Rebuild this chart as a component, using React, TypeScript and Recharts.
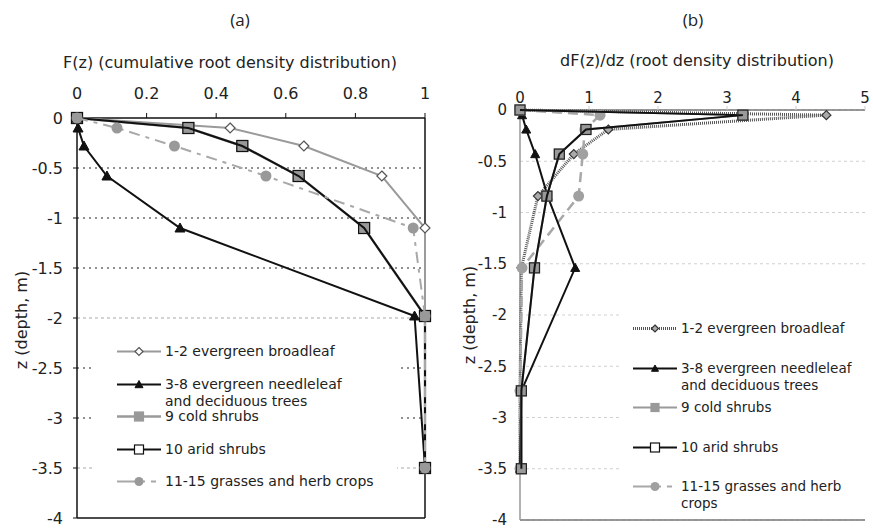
import React from "react";
import {
  ScatterChart,
  Scatter,
  XAxis,
  YAxis,
  CartesianGrid,
  ReferenceLine,
} from "recharts";

// depths (m) and values
const depthA = [0, -0.1, -0.28, -0.58, -1.1, -1.98, -3.5];
const broadleafF = [0, 0.44, 0.652, 0.876, 1.0, 1.0, 1.0];
const needleleafF = [0, 0.003, 0.02, 0.086, 0.296, 0.97, 1.0];
const coldShrubsF = [0, 0.32, 0.475, 0.637, 0.825, 1.0, 1.0];
const aridShrubsF = [0, 0.32, 0.475, 0.637, 0.825, 1.0, 1.0];
const grassesF = [0, 0.115, 0.28, 0.543, 0.966, 1.0, 1.0];

const depthB = [0, -0.05, -0.19, -0.43, -0.84, -1.54, -2.74, -3.5];
const broadleafD = [0, 4.44, 1.28, 0.78, 0.26, 0.02, 0, 0];
const needleleafD = [0, 0.03, 0.09, 0.22, 0.4, 0.8, 0.02, 0];
const coldShrubsD = [0, 3.23, 0.956, 0.57, 0.39, 0.21, 0.02, 0.02];
const aridShrubsD = [0, 3.23, 0.956, 0.57, 0.39, 0.21, 0.02, 0.02];
const grassesD = [0, 1.16, 0.94, 0.91, 0.85, 0.03, 0, 0];

const ticksFA = [0, 0.2, 0.4, 0.6, 0.8, 1];
const ticksDB = [0, 1, 2, 3, 4, 5];
const ticksZ = [0, -0.5, -1, -1.5, -2, -2.5, -3, -3.5, -4];

const legendNames = [
  "1-2 evergreen broadleaf",
  "3-8 evergreen needleleaf and deciduous trees",
  "9 cold shrubs",
  "10 arid shrubs",
  "11-15 grasses and herb crops",
];

const FONT = "'DejaVu Sans', Verdana, sans-serif";

type Kind = "diamond" | "triangle" | "square" | "circle";
type MarkerStyle = { kind: Kind; fill: string; stroke: string; size: number };

function Marker({ cx, cy, m }: { cx: number; cy: number; m: MarkerStyle }) {
  if (cx == null || cy == null) return null;
  const r = m.size / 2;
  if (m.kind === "diamond")
    return (
      <polygon
        points={`${cx},${cy - r} ${cx + r},${cy} ${cx},${cy + r} ${cx - r},${cy}`}
        fill={m.fill}
        stroke={m.stroke}
        strokeWidth={1.2}
      />
    );
  if (m.kind === "triangle")
    return (
      <polygon
        points={`${cx},${cy - r} ${cx + r},${cy + r * 0.8} ${cx - r},${cy + r * 0.8}`}
        fill={m.fill}
        stroke={m.stroke}
      />
    );
  if (m.kind === "square")
    return (
      <rect
        x={cx - r}
        y={cy - r}
        width={m.size}
        height={m.size}
        fill={m.fill}
        stroke={m.stroke}
        strokeWidth={1.2}
      />
    );
  return <circle cx={cx} cy={cy} r={r} fill={m.fill} stroke={m.stroke} />;
}

type LineStyle = { stroke: string; strokeWidth: number; strokeDasharray?: string };
type Series = {
  name: string;
  values: number[];
  line: LineStyle;
  marker: MarkerStyle;
  legendLine?: LineStyle;
  legendMarker?: MarkerStyle;
};

const seriesA: Series[] = [
  {
    name: legendNames[0],
    values: broadleafF,
    line: { stroke: "#9a9a9a", strokeWidth: 2 },
    marker: { kind: "diamond", fill: "#fff", stroke: "#555", size: 10 },
  },
  {
    name: legendNames[2],
    values: coldShrubsF,
    line: { stroke: "#9a9a9a", strokeWidth: 2.5 },
    marker: { kind: "square", fill: "#999", stroke: "#999", size: 11 },
  },
  {
    name: legendNames[3],
    values: aridShrubsF,
    line: { stroke: "#111", strokeWidth: 2 },
    marker: { kind: "square", fill: "none", stroke: "#111", size: 11 },
    legendMarker: { kind: "square", fill: "#fff", stroke: "#111", size: 9 },
  },
  {
    name: legendNames[1],
    values: needleleafF,
    line: { stroke: "#111", strokeWidth: 2 },
    marker: { kind: "triangle", fill: "#111", stroke: "#111", size: 10 },
  },
  {
    name: legendNames[4],
    values: grassesF,
    line: { stroke: "#a8a8a8", strokeWidth: 2, strokeDasharray: "11 6 4 6" },
    marker: { kind: "circle", fill: "#999", stroke: "none", size: 11 },
    legendLine: { stroke: "#a8a8a8", strokeWidth: 2, strokeDasharray: "28 6 5 20" },
  },
];

const seriesB: Series[] = [
  {
    name: legendNames[0],
    values: broadleafD,
    line: { stroke: "#555", strokeWidth: 3, strokeDasharray: "1 1" },
    marker: { kind: "diamond", fill: "#aaa", stroke: "#333", size: 9 },
  },
  {
    name: legendNames[4],
    values: grassesD,
    line: { stroke: "#a8a8a8", strokeWidth: 2.5, strokeDasharray: "10 6" },
    marker: { kind: "circle", fill: "#a0a0a0", stroke: "none", size: 11 },
    legendLine: { stroke: "#a8a8a8", strokeWidth: 2, strokeDasharray: "28 6 5 20" },
  },
  {
    name: legendNames[1],
    values: needleleafD,
    line: { stroke: "#111", strokeWidth: 2 },
    marker: { kind: "triangle", fill: "#111", stroke: "#111", size: 9 },
  },
  {
    name: legendNames[2],
    values: coldShrubsD,
    line: { stroke: "#9a9a9a", strokeWidth: 2 },
    marker: { kind: "square", fill: "#999", stroke: "#999", size: 10 },
  },
  {
    name: legendNames[3],
    values: aridShrubsD,
    line: { stroke: "#111", strokeWidth: 2 },
    marker: { kind: "square", fill: "none", stroke: "#222", size: 10 },
    legendMarker: { kind: "square", fill: "#fff", stroke: "#111", size: 9 },
  },
];

const legendOrder = [0, 1, 2, 3, 4];

function ChartLegend({
  series,
  left,
  top,
  width,
  height,
  textLeft,
  pitch,
  fontSize,
  breakAfter,
}: {
  series: Series[];
  left: number;
  top: number;
  width: number;
  height: number;
  textLeft: number;
  pitch: number;
  fontSize: number;
  breakAfter: string[];
}) {
  const items = legendOrder.map((i) => series.find((s) => s.name === legendNames[i])!);
  const wrap = (name: string) =>
    breakAfter.reduce((t, w) => t.replace(`${w} `, `${w}\n`), name);
  return (
    <div
      style={{
        position: "absolute",
        left,
        top,
        width,
        height,
        background: "#fff",
        fontFamily: FONT,
        fontSize,
        color: "#222",
      }}
    >
      {items.map((s, i) => (
        <div
          key={s.name}
          style={{ position: "absolute", left: 0, top: 12 + i * pitch, width, lineHeight: "17px" }}
        >
          <svg width={44} height={17} style={{ position: "absolute", left: textLeft - 48, top: 0 }}>
            <line x1={0} x2={44} y1={8.5} y2={8.5} {...(s.legendLine ?? s.line)} />
            <Marker cx={22} cy={8.5} m={s.legendMarker ?? { ...s.marker, size: s.marker.size - 2 }} />
          </svg>
          <div style={{ marginLeft: textLeft, whiteSpace: "pre" }}>{wrap(s.name)}</div>
        </div>
      ))}
    </div>
  );
}

const tickStyleA = { fontSize: 16, fontFamily: FONT, fill: "#222" };
const tickStyleB = { fontSize: 15, fontFamily: FONT, fill: "#222" };

function PanelA() {
  return (
    <ScatterChart
      width={450}
      height={529}
      margin={{ top: 88, right: 25, bottom: 11, left: 37 }}
      style={{ position: "absolute", left: 0, top: 0 }}
    >
      {[-0.5, -1, -1.5, -2.5, -3].map((v) => (
        <ReferenceLine key={v} y={v} stroke="#222" strokeDasharray="2 4" />
      ))}
      {[-2, -3.5].map((v) => (
        <ReferenceLine key={v} y={v} stroke="#aaa" strokeDasharray="3 3" />
      ))}
      <ReferenceLine x={1} stroke="#111" strokeWidth={1.5} />
      <ReferenceLine y={-4} stroke="#111" strokeWidth={1.5} />
      <XAxis
        type="number"
        dataKey="x"
        orientation="top"
        domain={[0, 1]}
        ticks={ticksFA}
        height={30}
        tick={tickStyleA}
        tickSize={5}
        tickMargin={14}
        stroke="#111"
        axisLine={{ stroke: "#111", strokeWidth: 1.5 }}
      />
      <YAxis
        type="number"
        dataKey="y"
        domain={[-4, 0]}
        ticks={ticksZ}
        width={40}
        tick={tickStyleA}
        tickSize={4}
        tickMargin={10}
        stroke="#111"
        axisLine={{ stroke: "#111", strokeWidth: 1.5 }}
      />
      {seriesA.map((s) => (
        <Scatter
          key={s.name}
          name={s.name}
          data={depthA.map((z, i) => ({ x: s.values[i], y: z }))}
          line={{ ...s.line, fill: "none" }}
          lineJointType="linear"
          shape={(p: any) => <Marker cx={p.cx} cy={p.cy} m={s.marker} />}
          isAnimationActive={false}
        />
      ))}
    </ScatterChart>
  );
}

function PanelB() {
  return (
    <ScatterChart
      width={423}
      height={529}
      margin={{ top: 80, right: 8, bottom: 9, left: 35 }}
      style={{ position: "absolute", left: 450, top: 0 }}
    >
      <CartesianGrid vertical={false} stroke="#d0d0d0" strokeDasharray="3 3" />
      <ReferenceLine y={-4} stroke="#777" strokeWidth={1.5} />
      <XAxis
        type="number"
        dataKey="x"
        orientation="top"
        domain={[0, 5]}
        ticks={ticksDB}
        height={30}
        tick={tickStyleB}
        tickSize={4}
        tickMargin={3}
        tickLine={{ stroke: "#ccc" }}
        axisLine={{ stroke: "#777", strokeWidth: 1.5 }}
      />
      <YAxis
        type="number"
        dataKey="y"
        domain={[-4, 0]}
        ticks={ticksZ}
        width={35}
        tick={tickStyleB}
        tickSize={0}
        tickMargin={13}
        tickLine={false}
        axisLine={{ stroke: "#999", strokeWidth: 1.5 }}
      />
      {seriesB.map((s) => (
        <Scatter
          key={s.name}
          name={s.name}
          data={depthB.map((z, i) => ({ x: s.values[i], y: z }))}
          line={{ ...s.line, fill: "none" }}
          lineJointType="linear"
          shape={(p: any) => <Marker cx={p.cx} cy={p.cy} m={s.marker} />}
          isAnimationActive={false}
        />
      ))}
    </ScatterChart>
  );
}

const textStyle: React.CSSProperties = {
  position: "absolute",
  fontFamily: FONT,
  fontSize: 16,
  color: "#222",
  whiteSpace: "nowrap",
  transform: "translate(-50%, -50%)",
};

export default function App() {
  return (
    <div
      style={{
        position: "absolute",
        left: 0,
        top: 0,
        width: 873,
        height: 529,
        background: "#fff",
        overflow: "hidden",
      }}
    >
      <PanelA />
      <PanelB />
      <div style={{ ...textStyle, left: 240, top: 19, fontFamily: "'Open Sans', sans-serif", fontSize: 17 }}>(a)</div>
      <div style={{ ...textStyle, left: 693, top: 19, fontFamily: "'Open Sans', sans-serif", fontSize: 17 }}>(b)</div>
      <div style={{ ...textStyle, left: 230, top: 62 }}>F(z) (cumulative root density distribution)</div>
      <div style={{ ...textStyle, left: 697, top: 60 }}>dF(z)/dz (root density distribution)</div>
      <div style={{ ...textStyle, left: 21, top: 320, transform: "translate(-50%, -50%) rotate(-90deg)" }}>
        z (depth, m)
      </div>
      <div style={{ ...textStyle, left: 469, top: 315, transform: "translate(-50%, -50%) rotate(-90deg)" }}>
        z (depth, m)
      </div>
      <ChartLegend
        series={seriesA}
        left={95}
        top={331}
        width={302}
        height={168}
        textLeft={70}
        pitch={32.5}
        fontSize={14}
        breakAfter={["needleleaf"]}
      />
      <ChartLegend
        series={seriesB}
        left={622}
        top={308}
        width={251}
        height={208}
        textLeft={59}
        pitch={39.5}
        fontSize={13.5}
        breakAfter={["needleleaf", "herb"]}
      />
    </div>
  );
}
